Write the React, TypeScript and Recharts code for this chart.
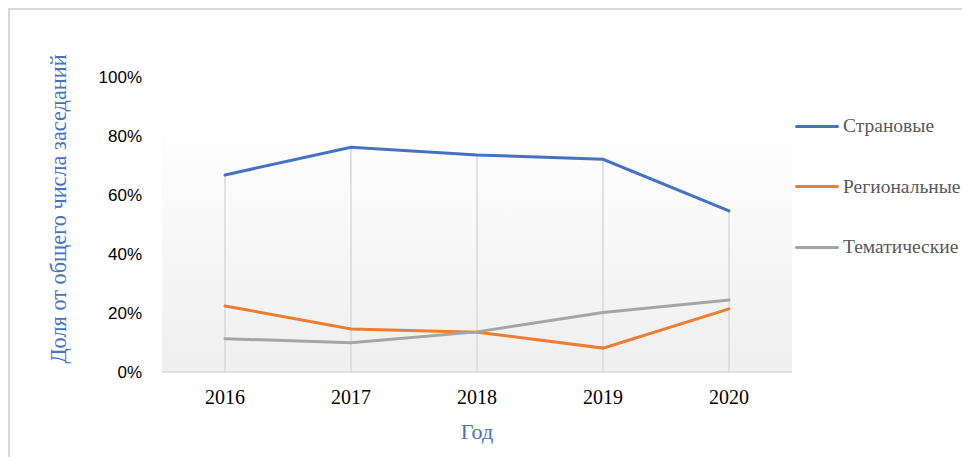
import { LineChart, Line, XAxis, YAxis, CartesianGrid, Legend, ReferenceLine, Label } from "recharts";

const years = ["2016", "2017", "2018", "2019", "2020"];
const countryShare = [66.8, 76.2, 73.6, 72.1, 54.6];
const regionalShare = [22.4, 14.6, 13.5, 8.1, 21.4];
const thematicShare = [11.3, 9.9, 13.6, 20.2, 24.4];
const yTicks = [0, 20, 40, 60, 80, 100];

const series = [
  { key: "country", name: "Страновые", color: "#4472C4" },
  { key: "regional", name: "Региональные", color: "#ED7D31" },
  { key: "thematic", name: "Тематические", color: "#A5A5A5" },
];

const data = years.map((year, i) => ({
  year,
  country: countryShare[i],
  regional: regionalShare[i],
  thematic: thematicShare[i],
}));

const serif = "'Liberation Serif', 'Times New Roman', serif";
const titleColor = "#4472C4";

function LegendBox() {
  return (
    <div>
      {series.map((s) => (
        <div key={s.key} style={{ display: "flex", alignItems: "center", height: 60.5, whiteSpace: "nowrap" }}>
          <div style={{ width: 44, height: 3, background: s.color, borderRadius: 2, flexShrink: 0 }} />
          <span style={{ marginLeft: 4, fontFamily: serif, fontSize: 19.5, color: "#595959" }}>{s.name}</span>
        </div>
      ))}
    </div>
  );
}

export default function App() {
  return (
    <div
      style={{
        width: 960,
        height: 449,
        borderTop: "2px solid #d9d9d9",
        borderLeft: "2px solid #d9d9d9",
        position: "relative",
      }}
    >
      <div style={{ position: "absolute", left: -2, top: -2 }}>
        {/* legend sits in the right margin, recharts adds its width to the offset */}
        <LineChart width={962} height={449} data={data} margin={{ top: 69, right: 3, bottom: 15, left: 60 }}>
          <defs>
            <linearGradient id="plotBg" x1="0" y1="0" x2="0" y2="1">
              <stop offset="0%" stopColor="#ffffff" />
              <stop offset="15%" stopColor="#ffffff" />
              <stop offset="100%" stopColor="#efefef" />
            </linearGradient>
          </defs>
          <CartesianGrid horizontal={false} vertical={false} fill="url(#plotBg)" />
          <XAxis
            dataKey="year"
            height={70}
            padding={{ left: 63, right: 63 }}
            axisLine={{ stroke: "#d9d9d9", strokeWidth: 1.5 }}
            tickLine={false}
            tickSize={0}
            tickMargin={18}
            tick={{ fill: "#000", fontFamily: serif, fontSize: 20 }}
          >
            <Label value="Год" position="insideBottom" offset={3} fill={titleColor} fontFamily={serif} fontSize={22} />
          </XAxis>
          <YAxis
            width={94}
            domain={[0, 100]}
            ticks={yTicks}
            tickFormatter={(v) => `${v}%`}
            axisLine={false}
            tickLine={false}
            tickSize={0}
            tickMargin={20}
            tick={{ fill: "#000", fontFamily: "'Liberation Sans', Arial, sans-serif", fontSize: 17 }}
          >
            <Label
              content={() => (
                <text
                  x={50}
                  y={201}
                  transform="rotate(-90 50 201)"
                  textAnchor="middle"
                  dominantBaseline="central"
                  fill={titleColor}
                  fontFamily={serif}
                  fontSize={22.3}
                >
                  Доля от общего числа заседаний
                </text>
              )}
            />
          </YAxis>
          {data.map((d) => (
            <ReferenceLine
              key={d.year}
              segment={[
                { x: d.year, y: 0 },
                { x: d.year, y: Math.max(d.country, d.regional, d.thematic) },
              ]}
              stroke="#d9d9d9"
              strokeWidth={1.5}
            />
          ))}
          {series.map((s) => (
            <Line
              key={s.key}
              type="linear"
              dataKey={s.key}
              name={s.name}
              stroke={s.color}
              strokeWidth={3}
              strokeLinecap="round"
              dot={false}
              activeDot={false}
              isAnimationActive={false}
            />
          ))}
          <Legend
            layout="vertical"
            align="right"
            verticalAlign="top"
            content={() => <LegendBox />}
            wrapperStyle={{ left: 787, top: 88, width: 175 }}
          />
        </LineChart>
      </div>
    </div>
  );
}
